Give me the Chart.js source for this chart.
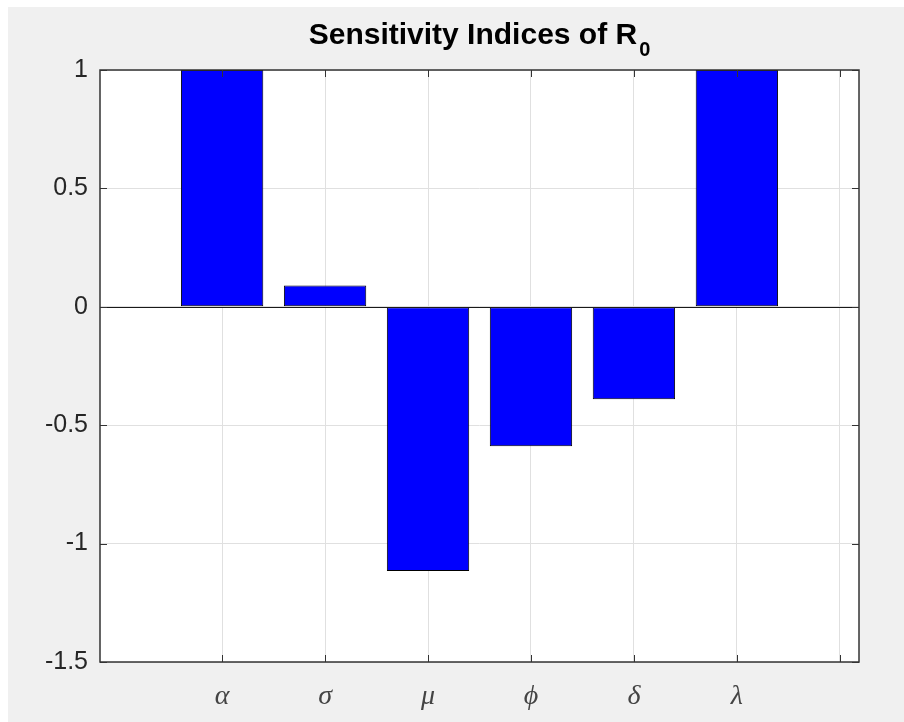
<!DOCTYPE html>
<html>
<head>
<meta charset="utf-8">
<title>Sensitivity Indices of R0</title>
<script src="https://cdn.jsdelivr.net/npm/chart.js@4/dist/chart.umd.min.js"></script>
<style>
  html, body { margin: 0; padding: 0; background: #ffffff; }
  #wrap { width: 904px; height: 722px; }
</style>
</head>
<body>
<div id="wrap"><canvas id="myChart" width="904" height="722"></canvas></div>
<script>
// parameters and their sensitivity indices
const params = ['α', 'σ', 'μ', 'ϕ', 'δ', 'λ'];
const positions = [1, 2, 3, 4, 5, 6];
const indices = [1, 0.09, -1.116, -0.589, -0.39, 1];
const xTicks = [1, 2, 3, 4, 5, 6, 7];
const yTicks = [-1.5, -1, -0.5, 0, 0.5, 1];

const axisColor = '#333333';
const gridColor = '#e0e0e0';

// figure background, white axes box
const backdrop = {
    id: 'backdrop',
    beforeDraw(chart) {
        const ctx = chart.ctx;
        const a = chart.chartArea;
        ctx.save();
        ctx.fillStyle = '#ffffff';
        ctx.fillRect(0, 0, chart.width, chart.height);
        ctx.fillStyle = '#f0f0f0';
        ctx.fillRect(8, 7, chart.width - 8, chart.height - 7);
        ctx.fillStyle = '#ffffff';
        ctx.fillRect(a.left, a.top, a.right - a.left, a.bottom - a.top);
        ctx.restore();
    }
};

// box, inward tick marks, baseline and the title with its subscript
const axesFrame = {
    id: 'axesFrame',
    afterDatasetsDraw(chart) {
        const ctx = chart.ctx;
        const a = chart.chartArea;
        const xs = chart.scales.x;
        const ys = chart.scales.y;
        const tl = 7;
        ctx.save();

        // baseline at zero
        ctx.strokeStyle = '#1a1a1a';
        ctx.lineWidth = 1.2;
        ctx.beginPath();
        const y0 = Math.round(ys.getPixelForValue(0)) + 0.5;
        ctx.moveTo(a.left, y0);
        ctx.lineTo(a.right, y0);
        ctx.stroke();

        ctx.strokeStyle = axisColor;
        ctx.lineWidth = 1.5;
        ctx.strokeRect(a.left, a.top, a.right - a.left, a.bottom - a.top);

        ctx.lineWidth = 1;
        ctx.beginPath();
        xTicks.forEach(v => {
            const px = Math.round(xs.getPixelForValue(v)) + 0.5;
            ctx.moveTo(px, a.bottom);
            ctx.lineTo(px, a.bottom - tl);
            ctx.moveTo(px, a.top);
            ctx.lineTo(px, a.top + tl);
        });
        yTicks.forEach(v => {
            const py = Math.round(ys.getPixelForValue(v)) + 0.5;
            ctx.moveTo(a.left, py);
            ctx.lineTo(a.left + tl, py);
            ctx.moveTo(a.right, py);
            ctx.lineTo(a.right - tl, py);
        });
        ctx.stroke();

        // title
        const main = 'Sensitivity Indices of R';
        const sub = '0';
        ctx.fillStyle = '#000000';
        ctx.textBaseline = 'alphabetic';
        ctx.textAlign = 'left';
        ctx.font = 'bold 30px "Liberation Sans", Arial, sans-serif';
        const w1 = ctx.measureText(main).width;
        ctx.font = 'bold 20px "Liberation Sans", Arial, sans-serif';
        const w2 = ctx.measureText(sub).width;
        const cx = (a.left + a.right) / 2;
        const x0 = cx - (w1 + w2 + 2) / 2;
        ctx.font = 'bold 30px "Liberation Sans", Arial, sans-serif';
        ctx.fillText(main, x0, 44);
        ctx.font = 'bold 20px "Liberation Sans", Arial, sans-serif';
        ctx.fillText(sub, x0 + w1 + 2, 56);

        ctx.restore();
    }
};

const ctx = document.getElementById('myChart').getContext('2d');
new Chart(ctx, {
    type: 'bar',
    data: {
        datasets: [{
            data: positions.map((p, i) => ({ x: p, y: indices[i] })),
            backgroundColor: '#0000ff',
            borderColor: '#000000',
            borderWidth: 1,
            borderSkipped: false,
            barPercentage: 0.8,
            categoryPercentage: 1
        }]
    },
    options: {
        responsive: false,
        animation: false,
        devicePixelRatio: 1,
        layout: { padding: { left: 0, right: 45, top: 70, bottom: 0 } },
        plugins: {
            legend: { display: false },
            title: { display: false },
            tooltip: { enabled: false }
        },
        scales: {
            x: {
                type: 'linear',
                min: -0.186,
                max: 7.186,
                offset: false,
                afterBuildTicks: axis => { axis.ticks = xTicks.map(v => ({ value: v })); },
                afterFit: axis => { axis.height = 60; },
                grid: { color: gridColor, drawTicks: false, offset: false },
                border: { display: false },
                ticks: {
                    autoSkip: false,
                    maxRotation: 0,
                    padding: 18,
                    color: '#444444',
                    font: { family: '"Liberation Serif", "Times New Roman", serif', style: 'italic', size: 28 },
                    callback: v => params[v - 1] || ''
                }
            },
            y: {
                min: -1.5,
                max: 1,
                afterBuildTicks: axis => { axis.ticks = yTicks.map(v => ({ value: v })); },
                afterFit: axis => { axis.width = 100; },
                grid: { color: gridColor, drawTicks: false },
                border: { display: false },
                ticks: {
                    padding: 12,
                    color: '#262626',
                    font: { family: '"Liberation Sans", Arial, sans-serif', size: 25 },
                    callback: v => String(v)
                }
            }
        }
    },
    plugins: [backdrop, axesFrame]
});
</script>
</body>
</html>
